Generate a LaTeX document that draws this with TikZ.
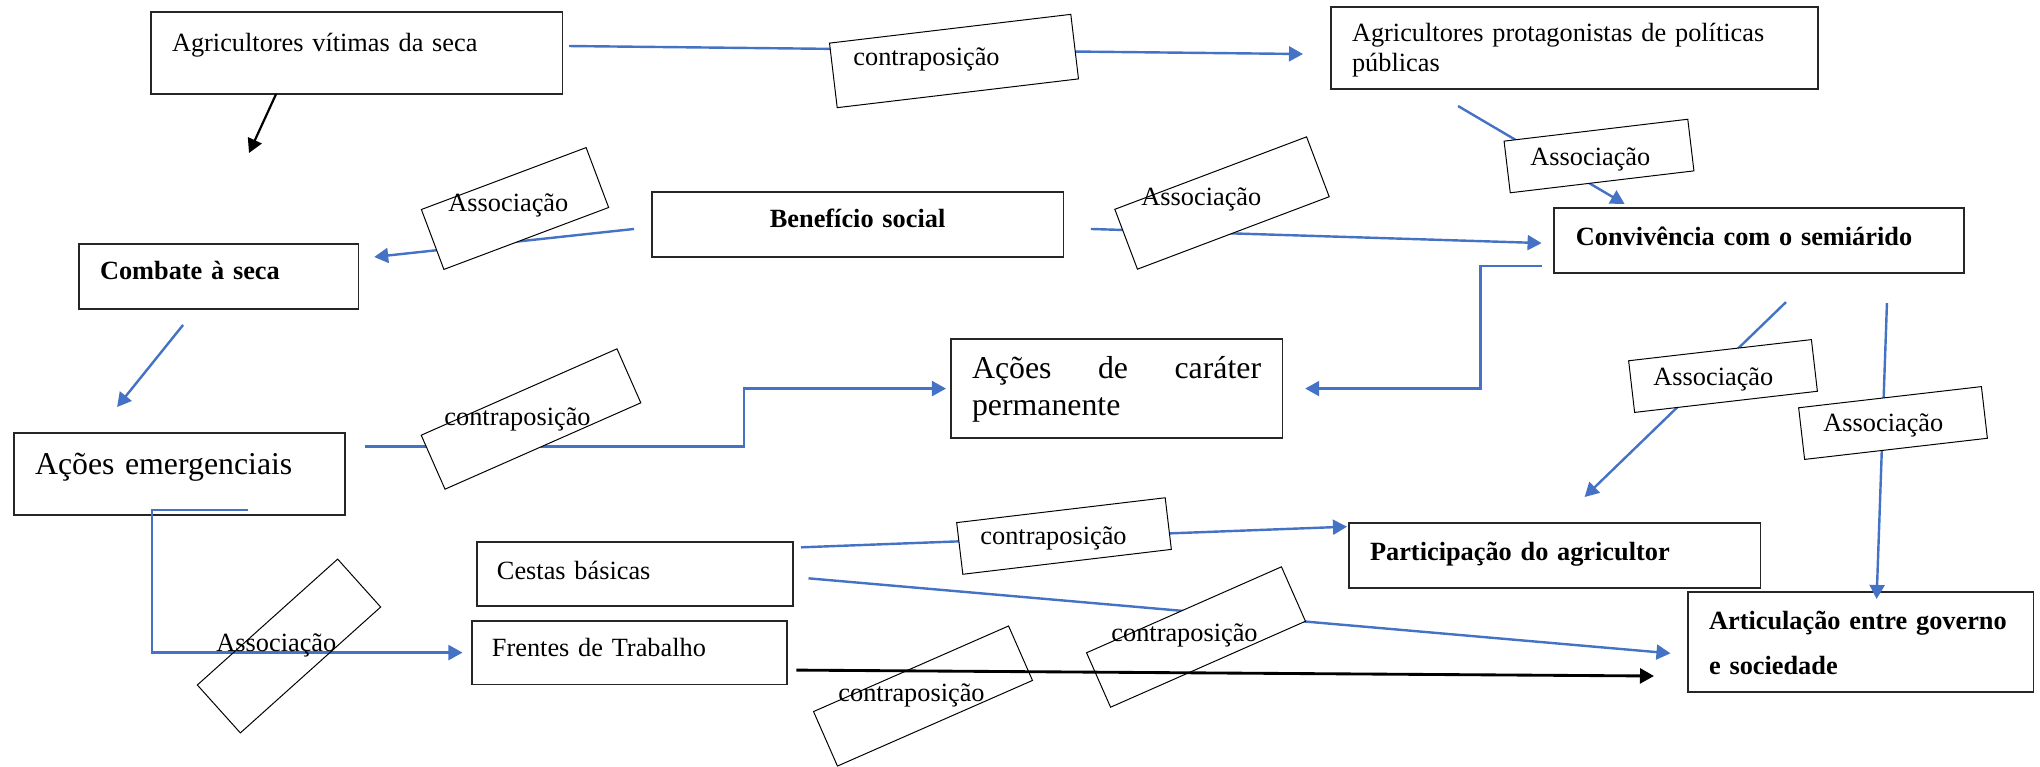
\documentclass[tikz,border=0pt]{standalone}
\usepackage{fontspec}
\setmainfont{Liberation Serif}
\usetikzlibrary{arrows.meta}
\definecolor{wordblue}{HTML}{4472C4}

\begin{document}
\begin{tikzpicture}[x=0.456pt, y=-0.456pt,
	box/.style = {draw=black!85, line width=0.6pt, anchor=north west, outer sep=0pt,
		inner ysep=0pt, align=left, font=\fontsize{12}{13.7}\selectfont},
	bbox/.style = {box, font=\bfseries\fontsize{12}{13.7}\selectfont},
	tilt/.style = {draw, line width=0.45pt, inner sep=0pt},
	lbl/.style = {anchor=base west, inner sep=0pt, font=\fontsize{12}{13.7}\selectfont},
	arr/.style = {draw=wordblue, line width=1.1pt, -{Triangle[length=6.4pt, width=6.8pt]}},
	blk/.style = {draw=black, line width=#1, -{Triangle[length=6.4pt, width=6.8pt]}}]

	\useasboundingbox (0,0) rectangle (2040,766);

	% caixas
	\node[box, inner xsep=9.6pt, text width=168.3pt, text height=17.8pt, text depth=19.6pt]
		(vitimas) at (151,12) {Agricultores vítimas da seca};
	\node[box, inner xsep=9.6pt, text width=202.9pt, text height=15.5pt, text depth=21.9pt]
		(protag) at (1331,7) {Agricultores protagonistas de políticas\\públicas};
	\node[bbox, align=center, inner xsep=4.6pt, text width=178.3pt, text height=16.4pt, text depth=13.2pt]
		(benef) at (652,192) {Benefício social};
	\node[bbox, inner xsep=9.6pt, text width=108.1pt, text height=16.4pt, text depth=13.2pt]
		(combate) at (79,244) {Combate à seca};
	\node[bbox, inner xsep=10pt, text width=166.9pt, text height=16.9pt, text depth=12.8pt]
		(convive) at (1554,208) {Convivência com o semiárido};
	\node[box, inner xsep=9.6pt, text width=131.8pt, text height=18.7pt, text depth=18.7pt,
		font=\fontsize{14.5}{17.3}\selectfont]
		(emerg) at (14,433) {Ações emergenciais};
	\node[box, inner xsep=9.6pt, text width=131.8pt, text height=17.8pt, text depth=27.4pt,
		font=\fontsize{14.5}{17.3}\selectfont]
		(perman) at (951,339) {\hbox to 131.8pt{Ações\hfill de\hfill caráter}\\permanente};
	\node[box, inner xsep=9.1pt, text width=125.9pt, text height=16.9pt, text depth=12.3pt]
		(cestas) at (477,542) {Cestas básicas};
	\node[box, inner xsep=9.1pt, text width=125.4pt, text height=16pt, text depth=12.8pt]
		(frentes) at (472,621) {Frentes de Trabalho};
	\node[bbox, inner xsep=9.6pt, text width=168.3pt, text height=17.3pt, text depth=12.3pt]
		(particip) at (1349,523) {Participação do agricultor};
	\node[bbox, inner xsep=9.6pt, text width=138.2pt, text height=17.3pt, text depth=28.3pt,
		font=\bfseries\fontsize{12}{20.1}\selectfont]
		(articul) at (1688,592) {Articulação entre governo\\e sociedade};

	\coordinate (seta) at (249,153);

	% ligacoes azuis
	\draw[arr] ([shift={(7,-7)}]vitimas.east) -- ([shift={(-28,6)}]protag.west);
	\draw[arr] ([shift={(-18,4.5)}]benef.west) -- ([shift={(16,-19.5)}]combate.east);
	\draw[arr] ([shift={(27.6,4.5)}]benef.east) -- ([shift={(-12.4,2.5)}]convive.west);
	\draw[arr] ([shift={(-116.5,17)}]protag.south) -- ([shift={(-134.3,-4)}]convive.north);
	\draw[arr] ([shift={(-35.5,16)}]combate.south) -- ([shift={(-62.5,-26)}]emerg.north);
	\draw[arr] ([shift={(-12.4,-7)}]convive.south west) -- ++(-61,0) |- ([shift={(23,0)}]perman.east);
	\draw[arr] ([shift={(27,29)}]convive.south) -- ([shift={(30,-26)}]particip.north);
	\draw[arr] ([shift={(128,30)}]convive.south) -- ([shift={(16,7)}]articul.north);
	\draw[arr] ([shift={(20,-27.7)}]emerg.east) -- ++(379,0) |- ([shift={(-5,0)}]perman.west);
	\draw[arr] ([shift={(68.5,-5)}]emerg.south) -- ++(-96,0) |- ([shift={(-9.5,0)}]frentes.west);
	\draw[arr] ([shift={(8,-26.7)}]cestas.east) -- ([shift={(-2,-28.8)}]particip.west);
	\draw[arr] ([shift={(15.5,4.3)}]cestas.east) -- ([shift={(-17.5,11.3)}]articul.west);

	% caixas inclinadas
	\foreach \n/\x/\y/\w/\h/\a/\f in {1/954/61/243/65/6.8/white, 2/515/208.5/176/64/20.6/white,
		3/1222/203/205/64/20.7/white, 4/1599/156/185/52/6.8/white, 5/1723/376/184/52/6.6/white,
		6/1893/423/184/52/6.6/white, 7/531/419/214/59/23.8/white, 8/289/646/188.5/64.4/41.9/none,
		9/1064/536/210/52/6.8/white, 10/1196/637/213/59.5/23.8/white, 11/923/696/213/59.5/23.7/white}
	{
		\node[tilt, fill=\f, minimum width=\w*0.456pt, minimum height=\h*0.456pt, rotate=\a] (tb\n) at (\x,\y) {};
	}

	% setas pretas
	\draw[blk=1pt] ([shift={(-80.5,0)}]vitimas.south) -- (seta);
	\draw[blk=1.3pt] ([shift={(9.4,17.5)}]frentes.east) -- ([shift={(-34,34)}]articul.west);

	\foreach \n/\x/\y/\txt in {1/853/65/contraposição, 2/448/211/Associação, 3/1141/205/Associação,
		4/1530/165/Associação, 5/1653/385/Associação, 6/1823/431/Associação, 7/444/425/contraposição,
		8/216/651/Associação, 9/980/544/contraposição, 10/1111/641/contraposição, 11/838/701/contraposição}
	{
		\node[lbl] (tx\n) at (\x,\y) {\txt};
	}
\end{tikzpicture}
\end{document}
